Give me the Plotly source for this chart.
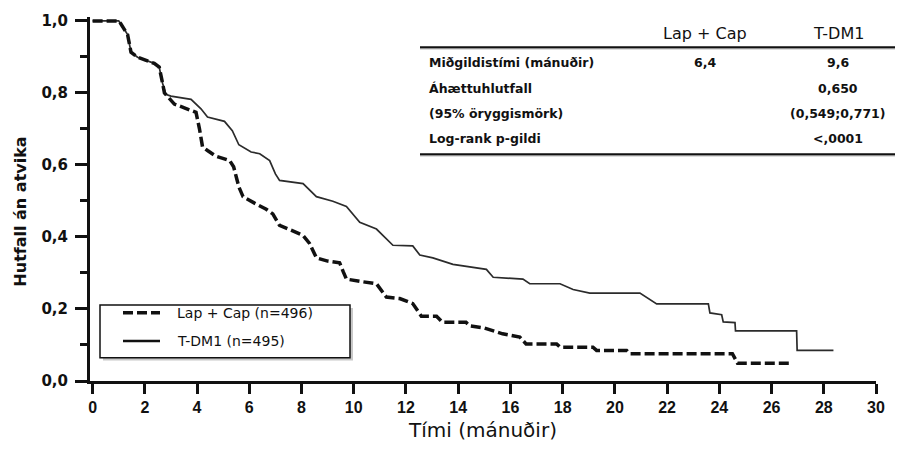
import plotly.graph_objects as go

# ---------------- data ----------------
series_names = ["Lap + Cap (n=496)", "T-DM1 (n=495)"]

months_lapcap = [0, 1.0, 1.08, 1.34, 1.47, 1.72, 2.36, 2.55, 2.68, 2.75, 3.13, 3.77, 3.96,
                 4.09, 4.21, 4.4, 4.7, 5.25, 5.4, 5.6, 5.76, 6.2, 6.65, 6.9, 7.16, 7.6,
                 8.06, 8.3, 8.57, 9.0, 9.46, 9.6, 9.72, 10.3, 10.87, 11.25, 11.76, 12.26,
                 12.59, 13.17, 13.4, 14.3, 14.44, 15.0, 15.7, 16.36, 16.6, 17.77, 17.9,
                 19.16, 19.3, 20.45, 20.57, 24.5, 24.7, 26.7]
surv_lapcap = [1.0, 1.0, 0.992, 0.962, 0.913, 0.899, 0.882, 0.872, 0.827, 0.800, 0.769, 0.751,
               0.746, 0.701, 0.650, 0.640, 0.625, 0.612, 0.595, 0.539, 0.512, 0.494, 0.477,
               0.464, 0.432, 0.419, 0.404, 0.383, 0.342, 0.333, 0.328, 0.303, 0.283, 0.276,
               0.270, 0.233, 0.229, 0.215, 0.180, 0.180, 0.163, 0.163, 0.153, 0.147, 0.131,
               0.122, 0.103, 0.103, 0.094, 0.094, 0.085, 0.085, 0.076, 0.076, 0.049, 0.049]

months_tdm1 = [0, 1.0, 1.08, 1.34, 1.47, 1.72, 2.36, 2.55, 2.68, 2.8, 3.0, 3.77, 4.15, 4.4,
               5.05, 5.35, 5.6, 6.07, 6.4, 6.78, 7.0, 7.16, 8.06, 8.57, 9.2, 9.72, 10.23,
               10.87, 11.5, 12.26, 12.53, 13.03, 13.8, 15.08, 15.34, 16.48, 16.74, 17.9,
               18.4, 19.04, 20.96, 21.3, 21.6, 23.58, 23.64, 24.09, 24.15, 24.6, 24.62,
               26.96, 26.98, 28.37]
surv_tdm1 = [1.0, 1.0, 0.992, 0.962, 0.913, 0.899, 0.882, 0.872, 0.827, 0.796, 0.791, 0.782,
             0.756, 0.733, 0.721, 0.695, 0.656, 0.636, 0.631, 0.612, 0.575, 0.557, 0.548,
             0.512, 0.499, 0.485, 0.441, 0.422, 0.377, 0.375, 0.350, 0.342, 0.324, 0.310,
             0.288, 0.283, 0.270, 0.270, 0.254, 0.244, 0.244, 0.229, 0.214, 0.214, 0.189,
             0.184, 0.164, 0.162, 0.139, 0.139, 0.085, 0.085]

x_tickvals = list(range(0, 31, 2))
y_tickvals = [0, 0.2, 0.4, 0.6, 0.8, 1.0]
y_ticktext = ["0,0", "0,2", "0,4", "0,6", "0,8", "1,0"]
y_minorvals = [0.1, 0.3, 0.5, 0.7, 0.9]

table_columns = ["Lap + Cap", "T-DM1"]
table_rows = ["Miðgildistími (mánuðir)", "Áhættuhlutfall", "(95% öryggismörk)", "Log-rank p-gildi"]
table_lapcap = ["6,4", "", "", ""]
table_tdm1 = ["9,6", "0,650", "(0,549;0,771)", "<,0001"]

x_title = "Tími (mánuðir)"
y_title = "Hutfall án atvika"

# ---------------- layout geometry (pixels) ----------------
W, H = 903, 450
L, R, T, B = 90, 876, 12, 386


def px(x):
    return (x - L) / (R - L)


def py(y):
    return (B - y) / (B - T)


BLACK = "#111111"
DASH = "10px,4px"

fig = go.Figure()
fig.add_trace(go.Scatter(x=months_tdm1, y=surv_tdm1, mode="lines", name=series_names[1],
                         line=dict(color="#2b2b2b", width=1.7), showlegend=False))
fig.add_trace(go.Scatter(x=months_lapcap, y=surv_lapcap, mode="lines", name=series_names[0],
                         line=dict(color=BLACK, width=3.5, dash=DASH), showlegend=False))

fig.update_layout(
    width=W, height=H,
    margin=dict(l=L, r=W - R, t=T, b=H - B, pad=0),
    paper_bgcolor="white", plot_bgcolor="white",
    font=dict(family="DejaVu Sans", color=BLACK),
    showlegend=False,
)

fig.update_xaxes(
    range=[-0.1, 30], tickvals=x_tickvals, ticks="outside", ticklen=10, tickwidth=2.5,
    tickcolor=BLACK, showline=True, linewidth=3, linecolor=BLACK, showgrid=False,
    zeroline=False,
    tickfont=dict(family="Liberation Sans, Arial", size=16, weight="bold", color=BLACK),
    title=dict(text=x_title, font=dict(family="DejaVu Sans", size=20, color=BLACK), standoff=8),
)
fig.update_yaxes(
    range=[0, 1.0108], tickvals=y_tickvals, ticktext=y_ticktext, ticks="outside",
    ticklen=12, tickwidth=2.5, tickcolor=BLACK, showline=True, linewidth=3,
    linecolor=BLACK, showgrid=False, zeroline=False, ticklabelstandoff=4,
    tickfont=dict(family="DejaVu Sans", size=15, weight="bold", color=BLACK),
    minor=dict(tickvals=y_minorvals, ticks="outside", ticklen=7, tickwidth=2.5,
               tickcolor=BLACK, showgrid=False),
)

annotations = []
shapes = []

# y-axis title
annotations.append(dict(text=y_title, x=px(21), y=py(212), xref="paper", yref="paper",
                        textangle=-90, showarrow=False, xanchor="center", yanchor="middle",
                        font=dict(family="DejaVu Sans", size=16, weight="bold", color=BLACK)))

# ---- summary table ----
col_x = [705, 838]
for cx, name in zip(col_x, table_columns):
    annotations.append(dict(text=name, x=px(cx), y=py(29), xref="paper", yref="paper",
                            showarrow=False, xanchor="center", yanchor="middle",
                            font=dict(family="DejaVu Sans", size=16, color=BLACK)))
row_y = [59, 85, 111, 137]
row_font = dict(family="DejaVu Sans", size=12.5, weight="bold", color=BLACK)
for ry, label, v1, v2 in zip(row_y, table_rows, table_lapcap, table_tdm1):
    annotations.append(dict(text=label, x=px(427), y=py(ry), xref="paper", yref="paper",
                            showarrow=False, xanchor="left", yanchor="middle", font=row_font))
    for cx, v in zip(col_x, [v1, v2]):
        if v:
            annotations.append(dict(text=v, x=px(cx), y=py(ry), xref="paper", yref="paper",
                                    showarrow=False, xanchor="center", yanchor="middle",
                                    font=row_font))
for ly in [43, 153]:
    shapes.append(dict(type="line", xref="paper", yref="paper", x0=px(420), x1=px(895),
                       y0=py(ly + 1.5), y1=py(ly + 1.5), line=dict(color="#bbbbbb", width=1.5)))
    shapes.append(dict(type="line", xref="paper", yref="paper", x0=px(420), x1=px(895),
                       y0=py(ly), y1=py(ly), line=dict(color=BLACK, width=2)))

# ---- legend box ----
shapes.append(dict(type="rect", xref="paper", yref="paper", x0=px(103), x1=px(353),
                   y0=py(365), y1=py(311), line=dict(width=0), fillcolor="#c8c8c8", layer="above"))
shapes.append(dict(type="rect", xref="paper", yref="paper", x0=px(100), x1=px(350),
                   y0=py(362), y1=py(308), line=dict(color=BLACK, width=1.5),
                   fillcolor="white", layer="above"))
legend_y = [316, 345]
legend_styles = [dict(color=BLACK, width=3.5, dash=DASH), dict(color=BLACK, width=2.5)]
for ly, name, st in zip(legend_y, series_names, legend_styles):
    shapes.append(dict(type="line", xref="paper", yref="paper", x0=px(123), x1=px(160),
                       y0=py(ly), y1=py(ly), line=st, layer="above"))
    annotations.append(dict(text=name, x=px(175), y=py(ly), xref="paper", yref="paper",
                            showarrow=False, xanchor="left", yanchor="middle",
                            font=dict(family="DejaVu Sans", size=14, color=BLACK)))

fig.update_layout(annotations=annotations, shapes=shapes)

fig.write_html("out.html")
